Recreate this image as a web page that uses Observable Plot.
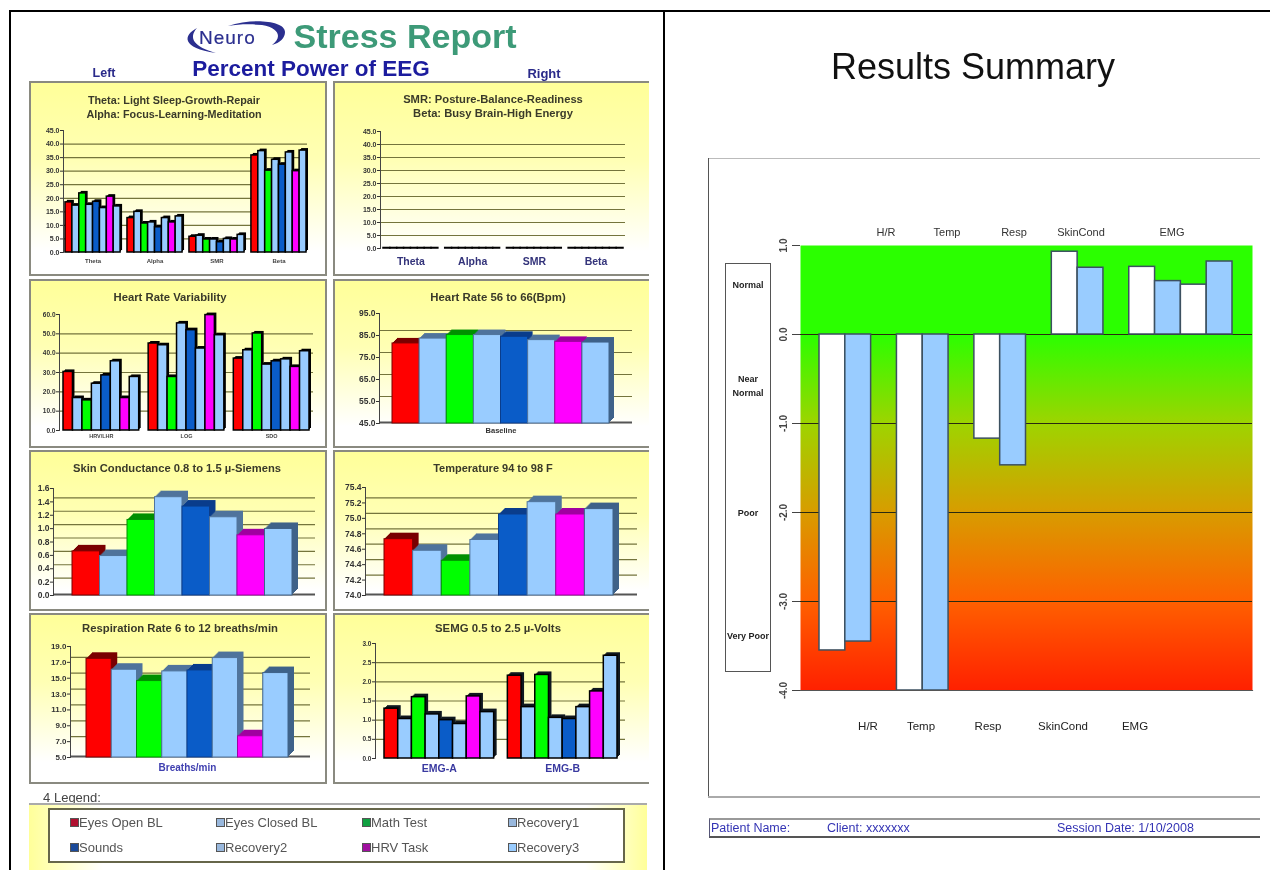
<!DOCTYPE html>
<html><head><meta charset="utf-8">
<script src="https://cdn.jsdelivr.net/npm/d3@7"></script>
<script src="https://cdn.jsdelivr.net/npm/@observablehq/plot@0.6"></script>
<style>
html,body{margin:0;padding:0;background:#fff;}
#page{position:relative;width:1270px;height:870px;overflow:hidden;font-family:"Liberation Sans",Arial,sans-serif;background:#fff;filter:blur(0.5px);}
#page>*{position:absolute;}
.panel{box-sizing:border-box;border:2px solid #8a8a80;background:linear-gradient(#ffff99 0%,#ffffb4 40%,#ffffff 88%);}
.t{white-space:nowrap;transform:translate(-50%,-50%);line-height:1;}
svg{overflow:visible;}
</style></head><body><div id="page"></div>
<script>
// ---- data ----
const series = ["Eyes Open BL","Eyes Closed BL","Math Test","Recovery1","Sounds","Recovery2","HRV Task","Recovery3"];
const seriesFill = ["#ff0000","#99ccff","#00ff00","#99ccff","#0a5cc8","#99ccff","#ff00ff","#99ccff"];
const seriesEdge = ["#7a0000","#50749c","#009000","#50749c","#0a3d8c","#50749c","#a000a0","#3f6289"];
const legendFill = ["#b01030","#99b8dd","#10a040","#99b8dd","#1a4a9a","#99b8dd","#a010a0","#99ccff"];

const eegGroups = ["Theta","Alpha","SMR","Beta"];
const eegLeftTheta = [18.5,17.3,21.8,17.6,18.7,16.4,20.6,17.0];
const eegLeftAlpha = [12.7,15.0,10.7,11.1,9.3,12.7,11.1,13.3];
const eegLeftSmr   = [5.8,6.2,4.8,4.8,3.8,5.0,4.8,6.5];
const eegLeftBeta  = [35.8,37.4,30.2,34.2,32.4,36.9,30.0,37.6];
const eegRightAll  = [0.2,0.2,0.2,0.2,0.2,0.2,0.2,0.2];
const eegTicks = [0,5,10,15,20,25,30,35,40,45];

const hrvGroups = ["HRV/LHR","LOG","SDO"];
const hrvA = [30.3,16.8,15.6,24.2,28.5,35.8,16.8,27.7];
const hrvB = [45.0,44.1,27.7,55.4,51.9,42.4,59.7,49.3];
const hrvC = [37.2,41.5,50.2,34.1,35.8,36.8,32.9,41.0];
const hrvTicks = [0,10,20,30,40,50,60];

const heartRate = [81.4,83.6,85.2,85.2,84.4,82.9,82.1,81.8];
const heartTicks = [45,55,65,75,85,95];
const skin = [0.66,0.59,1.13,1.47,1.33,1.17,0.90,0.995];
const skinTicks = [0,0.2,0.4,0.6,0.8,1.0,1.2,1.4,1.6];
const temp = [74.73,74.58,74.45,74.72,75.05,75.21,75.05,75.12];
const tempTicks = [74.0,74.2,74.4,74.6,74.8,75.0,75.2,75.4];
const resp = [17.45,16.07,14.64,15.86,15.98,17.54,7.68,15.65];
const respTicks = [5,7,9,11,13,15,17,19];
const emgGroups = ["EMG-A","EMG-B"];
const emgA = [1.30,1.03,1.60,1.15,1.00,0.90,1.62,1.21];
const emgB = [2.16,1.34,2.18,1.06,1.03,1.34,1.75,2.68];
const emgTicks = [0,0.5,1.0,1.5,2.0,2.5,3.0];

const summaryGroups = ["H/R","Temp","Resp","SkinCond","EMG"];
const summaryHR = [-3.55,-3.45];
const summaryTemp = [-4,-4];
const summaryResp = [-1.17,-1.47];
const summarySkin = [0.93,0.75];
const summaryEMG = [0.76,0.60,0.56,0.82];
const summaryTicks = [1,0,-1,-2,-3,-4];
const summaryFill = ["#ffffff","#99ccff"];
const ratingLabels = ["Normal","Near\nNormal","Poor","Very Poor"];

// ---- helpers ----
const page = document.getElementById("page");
function box(x,y,w,h,css){const d=document.createElement("div");d.style.cssText=`left:${x}px;top:${y}px;width:${w}px;height:${h}px;${css||""}`;page.appendChild(d);return d;}
function label(text,cx,cy,css){const d=document.createElement("div");d.className="t";d.textContent=text;d.style.cssText=`left:${cx}px;top:${cy}px;${css||""}`;page.appendChild(d);return d;}

function makeRows(groups,values){
  const domain=[],rows=[];
  groups.forEach((g,i)=>{
    series.forEach((s,j)=>{const key=g+"|"+j;domain.push(key);rows.push({key,v:values[i][j],fill:seriesFill[j],edge:seriesEdge[j]});});
    if(i<groups.length-1)domain.push("gap|"+i);
  });
  return {domain,rows};
}

function chart(c){
  const p=c.panel;
  const div=box(p[0],p[1],p[2],p[3]);
  div.className="panel";
  if(c.noRight) div.style.borderRight="none";
  const {domain,rows}=makeRows(c.groups,c.values);
  const [y0,ytop]=c.yPix, min=c.ticks[0], max=c.ticks[c.ticks.length-1];
  const floor=c.baseFloor!==false;
  const marks=[];
  marks.push(Plot.ruleY(c.ticks.slice(1,-1),{y:d=>d,stroke:"#74743c",strokeWidth:1.2,dy:-c.gridDy}));
  if(floor) marks.push(Plot.ruleY([min],{y:d=>d,stroke:"#555",strokeWidth:2,dy:-1}));
  for(let d=c.depth;d>=1;d--){
    marks.push(Plot.barY(rows,{x:"key",y1:()=>min,y2:"v",fill:r=>c.side||r.edge,dx:d,dy:-d,inset:0}));
  }
  marks.push(Plot.barY(rows,{x:"key",y1:()=>min,y2:"v",fill:"fill",stroke:c.outline||"edge",strokeWidth:c.outlineW||1,inset:0}));
  marks.push(Plot.frame({anchor:"left",stroke:"#444",strokeWidth:1}));
  marks.push(Plot.axisY({ticks:c.ticks,tickFormat:d=>d.toFixed(1),tickSize:3,tickPadding:1,fontSize:c.tickFont,fontWeight:"bold",color:"#333",label:null,anchor:"left"}));
  if(c.groupLabels!==false){
    const slot=(c.barX[1]-c.barX[0])/domain.length;
    marks.push(Plot.axisX({anchor:"bottom",ticks:c.groups.map(g=>g+"|3"),tickFormat:k=>k.split("|")[0],tickSize:0,tickPadding:c.labelPad,fontSize:c.labelFont,fontWeight:"bold",color:c.labelColor||"#33337a",dx:slot/2,label:null}));
  }
  const svg=Plot.plot({
    width:p[2],height:p[3],
    marginLeft:c.axisX-p[0],marginRight:p[0]+p[2]-c.gridEnd,
    marginTop:ytop-p[1],marginBottom:p[1]+p[3]-y0,
    style:{background:"transparent",fontFamily:"Liberation Sans",overflow:"visible"},
    x:{type:"band",domain,range:[c.barX[0]-p[0],c.barX[1]-p[0]],padding:0,round:false,axis:null},
    y:{domain:[min,max],axis:null},
    color:{type:"identity"},
    marks
  });
  svg.style.cssText+=`;position:absolute;left:${p[0]}px;top:${p[1]}px;`;
  page.appendChild(svg);
  (c.title||[]).forEach(t=>label(t[0],t[1],t[2],`font-size:${t[3]}px;font-weight:bold;color:#3a3a2a;`));
}

// ---- frame lines ----
box(9,10,1261,2,"background:#000");
box(9,10,2,860,"background:#000");
box(663,10,2,860,"background:#000");

// ---- left page header ----
const logo=document.createElementNS("http://www.w3.org/2000/svg","svg");
logo.setAttribute("width","120");logo.setAttribute("height","50");
logo.style.cssText="left:180px;top:14px;";
logo.innerHTML=`<path d="M17 14C3 21 1 34 36 39C14 33 8 24 17 14Z" fill="#2b2f8f"/><path d="M48 12C70 4 105 6 105 18C105 24 100 29 92 31C102 24 100 14 82 11C70 10 60 10 48 12Z" fill="#2b2f8f"/><text x="19" y="30" font-family="Liberation Sans" font-size="19" fill="#2b2f8f" stroke="#2b2f8f" stroke-width="0.2" letter-spacing="1">Neuro</text>`;
page.appendChild(logo);
label("Stress Report",405,36,"font-size:34px;font-weight:bold;color:#3d9a78;");
label("Percent Power of EEG",311,69,"font-size:22.5px;font-weight:bold;color:#1c1c9e;");
label("Left",104,73,"font-size:12.5px;font-weight:bold;color:#2a2a8a;");
label("Right",544,73,"font-size:13px;font-weight:bold;color:#2a2a8a;");

// ---- panels ----
chart({panel:[29,81,298,195],groups:eegGroups,values:[eegLeftTheta,eegLeftAlpha,eegLeftSmr,eegLeftBeta],ticks:eegTicks,
  yPix:[252,130],axisX:63,gridEnd:307,barX:[65,306],depth:2,side:"#000",outline:"#000",outlineW:1.5,gridDy:0,tickFont:7,labelFont:6,labelPad:6,labelColor:"#444",baseFloor:false,
  title:[["Theta: Light Sleep-Growth-Repair",174,100,10.8],["Alpha: Focus-Learning-Meditation",174,114,10.8]]});
chart({panel:[333,81,316,195],noRight:true,groups:eegGroups,values:eegGroups.map(()=>eegRightAll),ticks:eegTicks,
  yPix:[248,131],axisX:380,gridEnd:625,barX:[383,623],depth:0,side:"#000",outline:"#000",outlineW:1.5,gridDy:0,tickFont:7,labelFont:10.5,labelPad:9,baseFloor:false,
  title:[["SMR: Posture-Balance-Readiness",493,100,11.2],["Beta: Busy Brain-High Energy",493,114,11.2]]});
chart({panel:[29,279,298,169],groups:hrvGroups,values:[hrvA,hrvB,hrvC],ticks:hrvTicks,
  yPix:[430,314],axisX:59,gridEnd:313,barX:[63,309],depth:2,side:"#000",outline:"#000",outlineW:1.5,gridDy:0,tickFont:6.5,labelFont:5.5,labelPad:4,labelColor:"#444",baseFloor:false,
  title:[["Heart Rate Variability",170,298,11.3]]});
chart({panel:[333,279,316,169],noRight:true,groups:["Baseline"],values:[heartRate],ticks:heartTicks,
  yPix:[423,313],axisX:379,gridEnd:632,barX:[392,609],depth:5,gridDy:5,tickFont:8.5,labelFont:7.5,labelPad:4,labelColor:"#333",
  title:[["Heart Rate 56 to 66(Bpm)",498,298,11.4]]});
chart({panel:[29,450,298,161],groups:[""],groupLabels:false,values:[skin],ticks:skinTicks,
  yPix:[595,488],axisX:53,gridEnd:315,barX:[72,292],depth:6,gridDy:4,tickFont:8.5,
  title:[["Skin Conductance 0.8 to 1.5 µ-Siemens",177,469,11.2]]});
chart({panel:[333,450,316,161],noRight:true,groups:[""],groupLabels:false,values:[temp],ticks:tempTicks,
  yPix:[595,487],axisX:365,gridEnd:637,barX:[384,613],depth:6,gridDy:5,tickFont:8.5,
  title:[["Temperature 94 to 98 F",493,468,11]]});
chart({panel:[29,613,298,171],groups:["Breaths/min"],values:[resp],ticks:respTicks,
  yPix:[757,646],axisX:70,gridEnd:310,barX:[86,288],depth:6,gridDy:5,tickFont:8,labelFont:10,labelPad:6,labelColor:"#4040b0",
  title:[["Respiration Rate 6 to 12 breaths/min",180,629,11.3]]});
chart({panel:[333,613,316,171],noRight:true,groups:emgGroups,values:[emgA,emgB],ticks:emgTicks,
  yPix:[758,643],axisX:375,gridEnd:625,barX:[384,617],depth:3,side:"#101820",outline:"#000",outlineW:1.5,gridDy:0,tickFont:6.5,labelFont:10.5,labelPad:6,labelColor:"#3a3aa0",baseFloor:false,
  title:[["SEMG 0.5 to 2.5 µ-Volts",498,629,11.4]]});

// ---- legend ----
label("4 Legend:",72,797,"font-size:13px;color:#444;");
box(29,803,618,67,"background:linear-gradient(90deg,#ffff99,#fff 12%,#fff 90%,#ffff99);border-top:2px solid #aaa;box-sizing:border-box;");
box(48,808,577,55,"background:#fff;border:2px solid #66664a;box-sizing:border-box;");
const legendCols=[70,216,362,508],legendRows=[822,847];
series.forEach((s,i)=>{
  const col=legendCols[i%4],row=legendRows[Math.floor(i/4)];
  box(col,row-4,7,7,`background:${legendFill[i]};border:1px solid #555;`);
  label(s,col+9,row,"font-size:13px;color:#555;transform:translate(0,-50%);");
});

// ---- results summary ----
label("Results Summary",973,67,"font-size:36px;color:#111;");
box(708,158,552,1,"background:#bbb");
box(708,158,1,639,"background:#555");
box(708,796,552,2,"background:#aaa");

const sumDomain=[],sumRows=[];
[summaryHR,summaryTemp,summaryResp,summarySkin,summaryEMG].forEach((vals,i)=>{
  vals.forEach((v,j)=>{const key=summaryGroups[i]+"|"+j;sumDomain.push(key);sumRows.push({key,v,fill:summaryFill[j%2]});});
  if(i<4)sumDomain.push("gap|"+i);
});
const sx=760,sy=235;
const sumSvg=Plot.plot({
  width:500,height:470,marginLeft:40,marginRight:8,marginTop:10,marginBottom:15,
  style:{background:"transparent",fontFamily:"Liberation Sans",overflow:"visible"},
  x:{type:"band",domain:sumDomain,range:[819-sx,1232-sx],padding:0,round:false,axis:null},
  y:{domain:[-4,1],axis:null},
  color:{type:"identity"},
  marks:[
    ()=>{const s=document.createElementNS("http://www.w3.org/2000/svg","defs");
      s.innerHTML=`<linearGradient id="sumGrad" x1="0" y1="0" x2="0" y2="1"><stop offset="0.2" stop-color="#2bff00"/><stop offset="0.4" stop-color="#9ed400"/><stop offset="0.6" stop-color="#d89c00"/><stop offset="0.8" stop-color="#ff6000"/><stop offset="1" stop-color="#ff2000"/></linearGradient>`;return s;},
    Plot.frame({fill:"url(#sumGrad)"}),
    Plot.ruleY(summaryTicks.slice(1,5),{y:d=>d,stroke:"#2a2a10",strokeWidth:1.2}),
    Plot.barY(sumRows,{x:"key",y1:()=>0,y2:"v",fill:"fill",stroke:"#3c5060",strokeWidth:1.5,inset:0}),
    Plot.frame({anchor:"bottom",stroke:"#555",strokeWidth:1.2}),
    Plot.axisY({ticks:summaryTicks,tickFormat:d=>d.toFixed(1),tickSize:8,tickPadding:6,tickRotate:-90,fontSize:10,fontWeight:"bold",color:"#444",label:null,anchor:"left"})
  ]
});
sumSvg.style.cssText+=`;position:absolute;left:${sx}px;top:${sy}px;`;
page.appendChild(sumSvg);

const topLabelX=[886,947,1014,1081,1172],lowLabelX=[868,921,988,1063,1135];
summaryGroups.forEach((g,i)=>{
  label(g,topLabelX[i],232,"font-size:11px;color:#333;");
  label(g,lowLabelX[i],727,"font-size:11.5px;color:#222;");
});
box(725,263,46,409,"background:#fff;border:1px solid #555;box-sizing:border-box;");
const ratingPos=[[748,285],[748,386],[748,513],[748,636]];
ratingLabels.forEach((r,i)=>{label(r,ratingPos[i][0],ratingPos[i][1],"font-size:9px;font-weight:bold;color:#222;text-align:center;white-space:pre;line-height:14px;");});
box(709,818,551,20,"background:#fff;border-top:2px solid #999;border-bottom:2px solid #555;border-left:1px solid #557;box-sizing:border-box;");
[["Patient Name:",711],["Client: xxxxxxx",827],["Session Date: 1/10/2008",1057]].forEach(t=>label(t[0],t[1],828,"font-size:12.5px;color:#3434b4;transform:translate(0,-50%);"));
</script></body></html>
